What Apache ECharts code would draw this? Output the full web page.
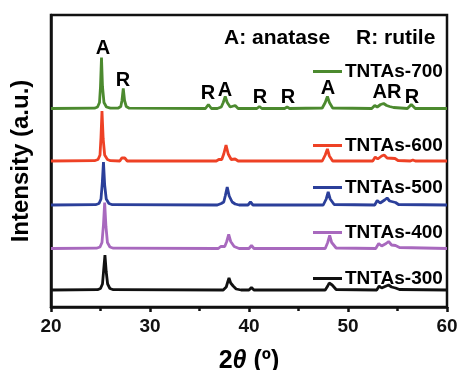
<!DOCTYPE html>
<html>
<head>
<meta charset="utf-8">
<script src="https://cdn.jsdelivr.net/npm/echarts@6/dist/echarts.min.js"></script>
<style>
  html, body { margin: 0; padding: 0; background: #fff; }
  #chart { width: 459px; height: 370px; }
</style>
</head>
<body>
<div id="chart"></div>
<script>
// series names, colours and vertical offsets (stacked patterns)
const names = ['TNTAs-300', 'TNTAs-400', 'TNTAs-500', 'TNTAs-600', 'TNTAs-700'];
const colors = ['#111111', '#a869be', '#2b3f9a', '#ee4125', '#4c8a2f'];
const offsets = [17, 58.5, 102, 146, 198.5];
const legendY = [275, 229, 184, 142, 68];

// [2theta, intensity above baseline]
const xrd300 = [[20,0],[24.7,0.3],[25.0,1.5],[25.2,6],[25.32,20],[25.45,35],[25.58,18],[25.72,6],[25.95,1.5],[26.3,0.3],[37.4,0],[37.7,3],[37.85,8],[37.98,12],[38.15,7],[38.4,4],[38.7,1],[39.2,0],[40.0,0],[40.25,2.5],[40.5,0],[47.7,0],[47.95,4],[48.1,7],[48.22,9],[48.4,5],[48.8,0.5],[52.9,0],[53.15,4],[53.4,2],[53.85,4],[54.1,5],[54.4,3],[54.8,2],[55.2,0.5],[60,0]];
const xrd400 = [[20,0],[24.6,0.3],[24.95,1.5],[25.15,6],[25.3,24],[25.42,46],[25.55,22],[25.7,6],[25.95,1.5],[26.3,0.3],[36.9,0],[37.15,2],[37.35,2.5],[37.55,2],[37.75,7],[37.95,14],[38.15,7],[38.5,2],[39.0,0],[40.0,0],[40.25,3],[40.5,0],[47.7,0],[47.95,6],[48.15,13],[48.35,6],[48.8,0.5],[52.8,0],[53.1,5],[53.4,2.5],[53.85,5],[54.1,7],[54.4,3.5],[54.8,3],[55.2,1],[60,0]];
const xrd500 = [[20,0],[24.5,0.3],[24.85,1.5],[25.05,6],[25.18,22],[25.3,43],[25.42,20],[25.58,6],[25.85,1.5],[26.2,0.3],[36.8,0],[37.2,1.5],[37.45,3],[37.6,9],[37.8,18],[38.0,9],[38.3,3],[38.6,1],[39.0,0],[39.9,0],[40.15,3],[40.4,0],[47.5,0],[47.8,6],[48.0,13],[48.2,6],[48.6,0.5],[52.7,0],[52.95,4.5],[53.25,2],[53.7,5],[53.95,7],[54.2,4],[54.8,2.5],[55.1,0.5],[60,0]];
const xrd600 = [[20,0],[24.4,0.3],[24.75,1.5],[24.95,6],[25.05,24],[25.15,50],[25.27,22],[25.42,6],[25.7,1.5],[26.0,0.3],[26.95,0],[27.15,3],[27.3,5],[27.45,3],[27.7,0],[36.7,0],[36.95,1.5],[37.25,1.5],[37.45,7],[37.68,16],[37.9,7],[38.2,1.5],[38.6,2],[38.9,0],[47.4,0],[47.7,6],[47.92,12],[48.12,5],[48.45,0],[52.5,0],[52.75,4],[53.0,2],[53.4,5],[53.65,6],[53.95,3],[54.75,2.5],[55.05,0.5],[56.3,0],[56.55,1],[56.8,0],[60,0]];
const xrd700 = [[20,0],[24.4,0.3],[24.7,1.5],[24.9,6],[25.0,22],[25.1,51],[25.2,22],[25.35,6],[25.6,1.5],[26.0,0.3],[26.8,0.5],[27.05,2],[27.17,8],[27.3,20],[27.43,8],[27.6,2],[27.9,0.3],[35.6,0],[35.9,4],[36.2,0],[36.8,0],[37.0,2],[37.2,1.5],[37.4,6],[37.6,12],[37.8,6],[38.1,1.5],[38.6,3],[38.9,0],[40.8,0],[41.05,2],[41.3,0],[43.6,0],[43.85,1.5],[44.1,0],[47.4,0.5],[47.7,6],[47.92,12],[48.12,6],[48.45,0.5],[52.4,0],[52.7,3],[52.95,1.5],[53.3,4],[53.6,5],[53.9,3],[54.2,2],[54.6,1],[56.0,0],[56.4,4],[56.8,0],[60,0]];
const patterns = [xrd300, xrd400, xrd500, xrd600, xrd700];

// phase labels over TNTAs-700
const peakX = [25.25, 27.27, 35.86, 37.58, 41.1, 43.94, 47.98, 53.94, 56.46];
const peakY = [259, 227, 214, 217, 210, 210, 219, 215, 210];
const peakText = ['A', 'R', 'R', 'A', 'R', 'R', 'A', 'AR', 'R'];

const chart = echarts.init(document.getElementById('chart'));
const bold = 'Liberation Sans, Arial, sans-serif';

const series = patterns.map((p, i) => ({
  name: names[i],
  type: 'line',
  symbol: 'none',
  data: p.map(d => [d[0], d[1] + offsets[i]]),
  lineStyle: { color: colors[i], width: 2.8 },
  itemStyle: { color: colors[i] },
  z: 2 + i
}));
series.push({
  type: 'scatter',
  symbolSize: 1,
  itemStyle: { opacity: 0 },
  data: peakX.map((x, i) => ({ value: [x, peakY[i]], name: peakText[i] })),
  label: {
    show: true, position: 'inside', formatter: '{b}', opacity: 1,
    color: '#000', fontWeight: 'bold', fontSize: 20, fontFamily: bold
  },
  silent: true, z: 10
});

const legends = names.map((n, i) => ({
  data: [n],
  left: 308,
  top: legendY[i] - 11,
  icon: 'rect',
  itemWidth: 29,
  itemHeight: 3,
  itemGap: 0,
  textStyle: { color: '#000', fontWeight: 'bold', fontSize: 19, fontFamily: bold, padding: [0, 0, 0, -2] },
  selectedMode: false
}));

chart.setOption({
  animation: false,
  backgroundColor: '#fff',
  grid: {
    left: 51, right: 12, top: 15, bottom: 63, outerBoundsMode: 'none',
    show: true, borderColor: '#111', borderWidth: 2.5
  },
  legend: legends,
  graphic: [
    { type: 'text', left: 224, top: 28, style: { text: 'A: anatase', fill: '#000', font: 'bold 21px ' + bold } },
    { type: 'text', left: 356, top: 28, style: { text: 'R: rutile', fill: '#000', font: 'bold 21px ' + bold } }
  ],
  xAxis: {
    type: 'value', min: 20, max: 60, interval: 10,
    name: '{a|2}{b|θ}{a| (º)}',
    nameLocation: 'middle', nameGap: 42,
    nameTextStyle: {
      rich: {
        a: { fontSize: 25, fontWeight: 'bold', color: '#000', fontFamily: bold },
        b: { fontSize: 25, fontWeight: 'bold', fontStyle: 'italic', color: '#000', fontFamily: bold }
      }
    },
    axisLine: { lineStyle: { color: '#111', width: 2.5 } },
    axisTick: { length: 5, lineStyle: { color: '#111', width: 2.5 } },
    minorTick: { show: true, splitNumber: 2, length: 4, lineStyle: { color: '#111', width: 2.5 } },
    axisLabel: { color: '#111', fontWeight: 'bold', fontSize: 19, fontFamily: bold, margin: 10 },
    splitLine: { show: false }
  },
  yAxis: {
    type: 'value', min: 0, max: 292,
    name: 'Intensity (a.u.)', nameLocation: 'middle', nameGap: 18,
    nameTextStyle: { color: '#000', fontWeight: 'bold', fontSize: 24, fontFamily: bold },
    axisLine: { show: true, lineStyle: { color: '#111', width: 2.5 } },
    axisTick: { show: false },
    axisLabel: { show: false },
    splitLine: { show: false }
  },
  series: series
});
</script>
</body>
</html>
